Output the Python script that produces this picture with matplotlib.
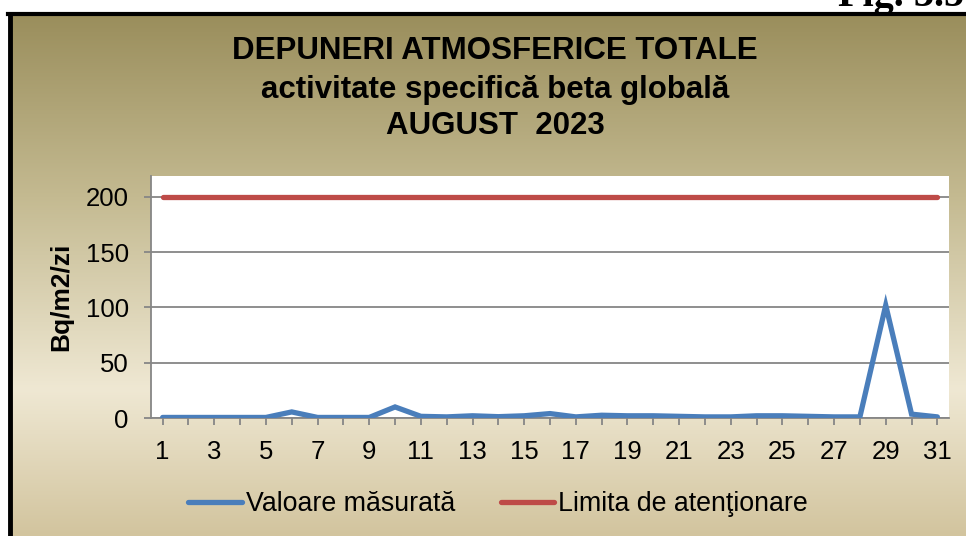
import numpy as np
import matplotlib
matplotlib.use("Agg")
import matplotlib.pyplot as plt
from matplotlib.colors import LinearSegmentedColormap
from matplotlib.lines import Line2D

plt.rcParams['font.family'] = ['Liberation Sans', 'DejaVu Sans']

days = list(range(1, 32))
measured = [0.5, 0.5, 0.5, 0.5, 0.5, 5.5, 0.5, 0.5, 0.5, 10, 1.5, 1, 2, 1.2, 2, 4,
            1, 2.5, 2, 2, 1.5, 1, 1, 2, 2, 1.5, 1, 1, 102, 3.5, 1]
limit = [200] * 31
xtick_labels = [str(d) if d % 2 == 1 else "" for d in days]
yticks = [0, 50, 100, 150, 200]
title_lines = ["DEPUNERI ATMOSFERICE TOTALE",
               "activitate specifică beta globală",
               "AUGUST  2023"]
series_names = ["Valoare măsurată", "Limita de atenţionare"]
ylabel = "Bq/m2/zi"

W, H = 966, 536
fig = plt.figure(figsize=(W / 100, H / 100), dpi=100)
fig.patch.set_facecolor("white")

# gradient background inside border
bx0, by_top = 10, 14
bg = fig.add_axes([bx0 / W, 0, 1 - bx0 / W, 1 - by_top / H])
cmap = LinearSegmentedColormap.from_list(
    "bg", [(0.0, "#9a8e5c"), (0.35, "#c4ba91"), (0.72, "#efe8d3"), (1.0, "#d2c49e")])
grad = np.linspace(0, 1, 256).reshape(-1, 1)
bg.imshow(grad, aspect="auto", cmap=cmap, extent=[0, 1, 0, 1], origin="upper")
bg.set_axis_off()

# black border lines
fig.add_artist(Line2D([bx0 / W, bx0 / W], [0, 1 - by_top / H], color="black", lw=3.5,
                      transform=fig.transFigure))
fig.add_artist(Line2D([bx0 / W - 0.002, 1], [1 - by_top / H, 1 - by_top / H], color="black",
                      lw=3, transform=fig.transFigure))

# partially visible figure label
fig.text(964 / W, 1 - 6 / H, "Fig. 3.5", family="Liberation Serif", fontsize=29,
         fontweight="bold", ha="right", va="baseline")

# plot area
left, right, top, bottom = 151, 949, 176, 418
ax = fig.add_axes([left / W, 1 - bottom / H, (right - left) / W, (bottom - top) / H])
ax.set_facecolor("white")
ax.plot(days, measured, color="#4a7ebb", lw=3.8, solid_joinstyle="miter",
        solid_capstyle="round", label=series_names[0], zorder=3)
ax.plot(days, limit, color="#be4b48", lw=3.8, solid_capstyle="round",
        label=series_names[1], zorder=3)
ax.set_xlim(0.55, 31.45)
ax.set_ylim(0, 219)
ax.set_yticks(yticks)
ax.set_xticks(days)
ax.set_xticklabels(xtick_labels)
ax.grid(axis="y", color="#868686", lw=1.3)
ax.set_axisbelow(True)
for s in ["top", "right"]:
    ax.spines[s].set_visible(False)
for s in ["left", "bottom"]:
    ax.spines[s].set_color("#868686")
    ax.spines[s].set_linewidth(1.3)
ax.tick_params(axis="both", colors="#868686", labelcolor="black", labelsize=18.5,
               length=5, width=1.3, direction="out")
ax.tick_params(axis="y", pad=11)
ax.tick_params(axis="x", pad=11)
ax.set_ylabel(ylabel, fontsize=19, fontweight="bold", labelpad=9)

# title
for t, yy in zip(title_lines, [51, 90, 126]):
    fig.text(495 / W, 1 - yy / H, t, ha="center", va="center", fontsize=22.5,
             fontweight="bold")

# legend
leg = fig.legend(loc="center", bbox_to_anchor=(498 / W, 1 - 504 / H), ncol=2,
                 frameon=False, fontsize=19.3, handlelength=2.0, handletextpad=0.15,
                 columnspacing=1.7, borderpad=0, borderaxespad=0)

fig.savefig("out.png", dpi=100)
